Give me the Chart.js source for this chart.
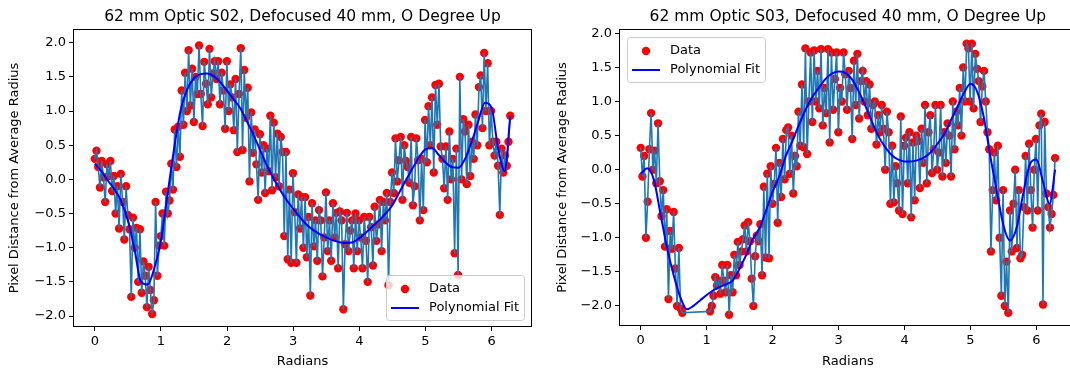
<!DOCTYPE html>
<html>
<head>
<meta charset="utf-8">
<script src="https://cdn.jsdelivr.net/npm/chart.js@4.4.1/dist/chart.umd.min.js"></script>
<style>
  html, body { margin: 0; padding: 0; background: #fff; overflow: hidden; }
  #wrap { position: relative; width: 1070px; height: 370px; overflow: hidden; }
  canvas { position: absolute; top: 0; }
  #left { left: 0; }
  #right { left: 540px; }
</style>
</head>
<body>
<div id="wrap">
  <canvas id="left" width="540" height="370" style="width:540px;height:370px"></canvas>
  <canvas id="right" width="540" height="370" style="width:540px;height:370px"></canvas>
</div>
<script>
// sample angles, 240 points over one turn
const radians = Array.from({length: 240}, (_, i) => i * 2 * Math.PI / 239);
// fit curve sampled every 0.1 rad, last point at 2*pi
const fitRadians = Array.from({length: 64}, (_, i) => Math.min(i * 0.1, 2 * Math.PI));

const xTicks = [0, 1, 2, 3, 4, 5, 6];
const yTicks = [-2.0, -1.5, -1.0, -0.5, 0.0, 0.5, 1.0, 1.5, 2.0];

// S02 measured distances (one row = 10 samples)
const s02Data = [
  0.30, 0.42, 0.18, -0.12, 0.27, 0.03, -0.33, 0.22, 0.05, 0.27,
  -0.17, 0.05, -0.50, -0.10, -0.72, 0.08, -0.33, -0.88, -0.10, -0.52,
  -0.73, -1.72, -0.56, -1.00, -0.71, -1.50, -0.73, -1.66, -1.20, -1.41,
  -1.87, -1.28, -1.62, -1.97, -1.77, -0.33, -1.41, -0.97, -0.83, -0.50,
  -0.97, -0.18, -0.50, -0.31, 0.23, -0.15, 0.73, 0.18, 0.77, 0.33,
  1.30, 0.80, 1.56, 1.00, 1.89, 1.08, 1.62, 0.84, 1.50, 1.25,
  1.96, 1.25, 0.78, 1.72, 1.40, 1.10, 1.91, 1.20, 1.55, 1.73,
  1.47, 1.73, 1.10, 1.56, 1.30, 0.74, 1.73, 1.00, 1.39, 1.20,
  0.72, 1.47, 0.40, 1.25, 1.92, 0.43, 1.60, 0.90, 1.34, -0.03,
  0.98, 0.39, 0.73, 0.22, -0.30, 0.66, 0.10, 0.50, -0.20, 0.45,
  0.12, 0.93, -0.16, 0.83, 0.03, 0.67, -0.10, 0.62, 0.40, -0.83,
  0.40, -1.17, -0.15, -1.22, 0.09, -0.48, -1.22, -0.22, -0.72, -0.26,
  -1.00, -0.26, -1.14, -0.55, -1.70, -0.35, -0.98, -0.60, -1.19, -0.45,
  -0.60, -1.42, -0.85, -0.19, -1.05, -0.60, -1.19, -0.35, -0.85, -0.49,
  -1.30, -0.47, -0.60, -1.90, -0.95, -0.49, -1.05, -0.75, -0.60, -1.30,
  -0.50, -1.05, -0.60, -0.85, -1.30, -0.55, -0.90, -1.50, -0.55, -0.70,
  -1.26, -0.40, -0.90, -0.66, -0.30, -1.05, -0.33, -0.60, -0.20, -1.55,
  -0.33, 0.10, -0.20, 0.60, -0.03, 0.28, 0.62, -0.30, 0.50, 0.27,
  0.18, -0.05, 0.62, -0.38, -0.10, 0.60, 0.28, -0.60, 0.30, -0.45,
  0.87, 0.25, 1.07, 0.50, 1.20, 0.10, 1.38, 0.80, 1.40, 0.48,
  0.30, -0.13, 0.48, -0.30, 0.70, 0.00, 0.30, -1.08, 0.45, -1.40,
  1.50, 0.00, 0.88, 0.70, -0.07, 0.80, 0.05, 0.55, 0.30, 0.95,
  0.50, 1.35, 1.52, 0.75, 1.85, 1.00, 1.70, 0.50, 1.00, 0.55,
  0.35, 0.55, 0.20, -0.52, 0.45, 0.10, 0.35, 0.20, 0.55, 0.93
];
const s02Fit = [
  0.23, 0.12, -0.02, -0.15, -0.32, -0.60, -1.02, -1.50, -1.54, -1.30,
  -0.90, -0.22, 0.45, 1.02, 1.32, 1.48, 1.54, 1.55, 1.51, 1.42,
  1.30, 1.17, 1.04, 0.85, 0.65, 0.43, 0.21, 0.02, -0.15, -0.30,
  -0.43, -0.55, -0.66, -0.74, -0.80, -0.85, -0.89, -0.92, -0.93, -0.92,
  -0.86, -0.78, -0.69, -0.60, -0.50, -0.38, -0.20, -0.02, 0.15, 0.32,
  0.44, 0.46, 0.36, 0.25, 0.18, 0.17, 0.30, 0.55, 0.85, 1.12,
  1.05, 0.45, 0.12, 0.93
];

// S03 measured distances (no samples between ~0.65 and ~1.05 rad)
const s03Data = [
  0.32, -0.10, 0.20, -1.00, -0.47, 0.30, 0.83, 0.00, 0.28, -0.20,
  0.68, -0.17, -0.68, -0.30, -1.13, -0.58, -1.90, -0.90, -1.16, -0.62,
  -1.45, -2.00, -1.15, -2.04, -2.10, null, null, null, null, null,
  null, null, null, null, null, null, null, null, null, null,
  -2.08, -2.00, -1.85, -1.58, -1.70, -1.63, -1.82, -1.40, -1.63, -1.80,
  -1.40, -2.13, -1.55, -1.80, -1.25, -1.55, -1.06, -1.40, -1.20, -1.02,
  -0.82, -1.20, -0.77, -1.05, -1.60, -2.00, -1.27, -0.97, -1.05, -0.80,
  -1.55, -0.25, -1.29, -0.06, -1.30, 0.05, -0.50, -0.21, 0.32, -0.78,
  0.10, -0.40, 0.45, -0.14, 0.58, 0.62, -0.06, 0.50, -0.35, 0.20,
  0.05, 0.85, 0.35, 1.25, 0.33, 1.78, 0.23, 1.00, 1.72, 0.70,
  1.75, 1.00, 1.45, 0.90, 1.77, 0.65, 1.20, 0.83, 1.77, 0.40,
  1.72, 0.88, 1.33, 1.72, 0.55, 1.20, 1.00, 1.72, 1.40, 0.88,
  1.45, 1.20, 0.45, 1.60, 0.95, 1.70, 0.75, 1.30, 1.45, 1.00,
  1.30, 0.80, 1.25, 0.60, 0.95, 1.00, 0.37, 0.80, 0.55, 0.95,
  0.60, 0.00, 0.85, 0.55, -0.50, 0.35, -0.48, 0.05, -0.20, -0.60,
  0.78, -0.65, 0.35, 0.47, -0.20, 0.55, -0.70, 0.40, -0.45, 0.50,
  0.42, -0.27, 0.60, 0.10, 0.95, -0.20, 0.55, 0.80, -0.05, 0.30,
  0.95, 0.00, 0.25, 0.95, -0.10, 0.55, 0.10, 0.68, 0.50, -0.10,
  1.00, 0.30, 0.85, 0.65, 1.20, 0.50, 1.50, 1.00, 1.85, 1.78,
  1.00, 1.85, 0.90, 1.70, 1.48, 1.30, 0.70, 1.22, 1.45, 1.00,
  0.55, 0.30, -1.20, -0.30, 0.25, -0.45, 0.35, -1.00, -1.85, -0.30,
  -2.00, -1.35, -2.10, -0.60, -1.20, -0.50, 0.00, -1.15, -0.30, -1.30,
  -1.25, -0.55, 0.20, -0.60, 0.38, -0.30, -0.85, 0.00, 0.45, -0.60,
  0.65, 0.82, -1.98, 0.70, -0.35, -0.55, -0.85, -0.65, -0.37, 0.17
];
const s03Fit = [
  -0.06, 0.02, -0.15, -0.65, -1.15, -1.55, -1.87, -2.05, -2.00, -1.92,
  -1.84, -1.77, -1.72, -1.68, -1.62, -1.45, -1.25, -1.02, -0.86, -0.60,
  -0.32, -0.10, 0.20, 0.42, 0.66, 0.88, 1.06, 1.20, 1.33, 1.41,
  1.44, 1.42, 1.33, 1.16, 0.95, 0.72, 0.50, 0.34, 0.22, 0.15,
  0.12, 0.12, 0.14, 0.18, 0.26, 0.38, 0.52, 0.72, 0.92, 1.12,
  1.26, 1.15, 0.78, 0.20, -0.32, -0.82, -1.04, -0.85, -0.35, 0.08,
  0.15, -0.18, -0.50, 0.00
];

Chart.defaults.font.family = '"DejaVu Sans"';
Chart.defaults.font.size = 13;
Chart.defaults.color = '#000';

// black box around the axes, like matplotlib spines
const frame = {
  id: 'frame',
  afterDatasetsDraw(chart) {
    const {ctx, chartArea: a} = chart;
    ctx.save();
    ctx.strokeStyle = '#000';
    ctx.lineWidth = 1;
    ctx.strokeRect(Math.round(a.left) - 0.5, Math.round(a.top) - 0.5,
      Math.round(a.right - a.left) + 1, Math.round(a.bottom - a.top) + 1);
    ctx.restore();
  }
};

// matplotlib style legend box drawn inside the axes
const boxLegend = {
  id: 'boxLegend',
  afterDatasetsDraw(chart, args, opts) {
    const {ctx, chartArea: a} = chart;
    const items = chart.data.datasets.filter(d => d.legendRank).sort((p, q) => p.legendRank - q.legendRank);
    ctx.save();
    ctx.font = '13px "DejaVu Sans"';
    const textW = Math.max(...items.map(d => ctx.measureText(d.label).width));
    const w = Math.round(5.2 + 26 + 10.4 + textW + 6);
    const h = 45;
    const x = opts.loc === 'upper left' ? Math.round(a.left) + 7 : Math.round(a.right) - 7 - w;
    const y = opts.loc === 'upper left' ? Math.round(a.top) + 7 : Math.round(a.bottom) - 6 - h;
    ctx.beginPath();
    ctx.roundRect(x + 0.5, y + 0.5, w, h, 3);
    ctx.fillStyle = 'rgba(255,255,255,0.8)';
    ctx.fill();
    ctx.strokeStyle = '#cccccc';
    ctx.lineWidth = 1;
    ctx.stroke();
    items.forEach((d, k) => {
      const cy = y + 14 + k * 19;
      if (d.type === 'scatter') {
        ctx.beginPath();
        ctx.arc(x + 19, cy, 4.2, 0, Math.PI * 2);
        ctx.fillStyle = d.backgroundColor;
        ctx.fill();
      } else {
        ctx.beginPath();
        ctx.moveTo(x + 5, cy);
        ctx.lineTo(x + 33, cy);
        ctx.strokeStyle = d.borderColor;
        ctx.lineWidth = d.borderWidth;
        ctx.stroke();
      }
      ctx.fillStyle = '#000';
      ctx.textBaseline = 'middle';
      ctx.textAlign = 'left';
      ctx.fillText(d.label, x + 43, cy);
    });
    ctx.restore();
  }
};

function makeChart(id, title, values, fitValues, o) {
  const pts = radians.map((x, i) => ({x: x, y: values[i]}));
  const fitPts = fitRadians.map((x, i) => ({x: x, y: fitValues[i]}));
  return new Chart(document.getElementById(id), {
    type: 'scatter',
    data: {
      datasets: [
        {
          type: 'line', label: 'Polynomial Fit', legendRank: 2, data: fitPts,
          borderColor: '#0000ff', borderWidth: 2, pointRadius: 0,
          cubicInterpolationMode: 'monotone', fill: false, order: 0
        },
        {
          type: 'line', label: 'trace', data: pts,
          borderColor: '#1f77b4', borderWidth: 1.6, pointRadius: 0,
          spanGaps: true, fill: false, order: 1
        },
        {
          type: 'scatter', label: 'Data', legendRank: 1, data: pts,
          backgroundColor: '#ff0000', borderWidth: 0, pointRadius: 4.2,
          order: 2
        }
      ]
    },
    options: {
      responsive: false,
      animation: false,
      devicePixelRatio: 1,
      layout: {padding: {left: 0, right: o.padRight, top: 0, bottom: 0}},
      plugins: {
        legend: {display: false},
        tooltip: {enabled: false},
        title: {
          display: true, text: title, fullSize: false, color: '#000',
          font: {size: 15.5, weight: 'normal'},
          padding: {top: 8, bottom: 3.4}
        },
        boxLegend: {loc: o.legendLoc}
      },
      scales: {
        x: {
          type: 'linear', min: -0.314, max: 6.597,
          afterBuildTicks: s => { s.ticks = xTicks.map(v => ({value: v})); },
          afterFit: s => { s.height = o.xHeight; },
          ticks: {padding: 3, maxRotation: 0, callback: v => String(v)},
          grid: {display: true, drawOnChartArea: false, drawTicks: true, tickLength: 5, tickColor: '#000', tickWidth: 1},
          border: {display: false},
          title: {display: true, text: 'Radians', padding: {top: 0, bottom: 1}}
        },
        y: {
          type: 'linear', min: o.yMin, max: o.yMax,
          afterBuildTicks: s => { s.ticks = yTicks.map(v => ({value: v})); },
          afterFit: s => { s.width = o.yWidth; },
          ticks: {padding: 3, callback: v => (v < 0 ? '\u2212' : '') + Math.abs(v).toFixed(1)},
          grid: {display: true, drawOnChartArea: false, drawTicks: true, tickLength: 5, tickColor: '#000', tickWidth: 1},
          border: {display: false},
          title: {display: true, text: 'Pixel Distance from Average Radius', padding: {top: o.yTitlePad, bottom: 0}}
        }
      }
    },
    plugins: [frame, boxLegend]
  });
}

makeChart('left', '62 mm Optic S02, Defocused 40 mm, O Degree Up', s02Data, s02Fit,
  {yMin: -2.146, yMax: 2.186, yWidth: 74, xHeight: 44, padRight: 9, yTitlePad: 7, legendLoc: 'lower right'});
makeChart('right', '62 mm Optic S03, Defocused 40 mm, O Degree Up', s03Data, s03Fit,
  {yMin: -2.28, yMax: 2.05, yWidth: 80, xHeight: 45, padRight: 3, yTitlePad: 15, legendLoc: 'upper left'});
</script>
</body>
</html>
